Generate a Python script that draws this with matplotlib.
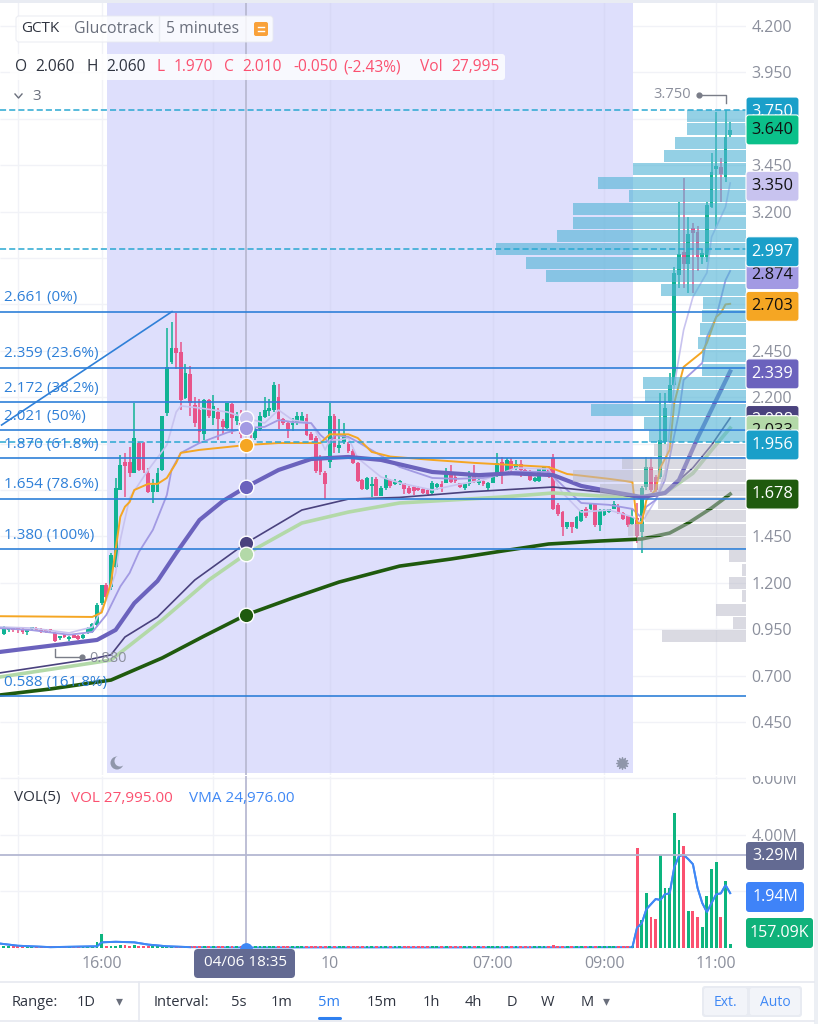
# coding:utf-8
import matplotlib
matplotlib.use('Agg')
import matplotlib.pyplot as plt
from matplotlib.patches import FancyBboxPatch, Rectangle, Circle
import numpy as np

plt.rcParams['font.family'] = ['Open Sans', 'DejaVu Sans']

# candles, one bar every 5 minutes
opens = [.925,.945,.955,.95,.94,.935,.95,.955,.945,.94,.945,.93,.90,.915,.895,.915,.915,.90,.93,.935,
         .975,1.09,1.19,1.18,1.285,1.70,1.85,1.85,1.79,1.955,1.955,1.79,1.69,1.69,1.81,2.115,2.39,2.465,2.445,2.195,
         2.325,2.16,2.13,2.0,2.185,2.09,2.12,2.07,2.035,2.165,2.07,2.06,2.06,2.02,1.98,2.03,2.095,2.125,2.13,2.20,
         2.08,2.06,2.05,2.06,2.07,2.09,2.0,1.98,1.88,1.79,1.85,2.10,1.925,1.96,1.95,1.91,1.845,1.755,1.705,1.72,
         1.76,1.67,1.71,1.755,1.73,1.735,1.735,1.71,1.715,1.71,1.705,1.70,1.685,1.715,1.73,1.74,1.78,1.77,1.735,1.71,
         1.73,1.785,1.74,1.75,1.71,1.74,1.78,1.85,1.79,1.855,1.82,1.84,1.81,1.805,1.75,1.75,1.80,1.815,1.87,1.62,
         1.58,1.50,1.525,1.495,1.535,1.60,1.60,1.625,1.51,1.565,1.58,1.60,1.61,1.575,1.56,1.515,1.55,1.475,1.715,1.825,
         1.77,1.77,1.96,2.175,2.265,2.86,2.98,2.92,3.11,3.09,2.955,2.955,3.225,3.43,3.44,3.385,3.61]
highs = [.965,.96,.96,.955,.955,.95,.96,.96,.955,.95,.95,.935,.915,.925,.915,.92,.92,.925,.96,.985,
         1.09,1.19,1.20,1.36,1.765,1.89,1.90,1.93,2.17,1.96,1.96,1.82,1.76,1.82,2.10,2.575,2.605,2.655,2.50,2.38,
         2.37,2.20,2.19,2.19,2.19,2.21,2.14,2.08,2.17,2.17,2.12,2.13,2.06,2.04,2.04,2.12,2.20,2.19,2.28,2.27,
         2.09,2.07,2.09,2.12,2.12,2.11,2.01,1.99,1.89,1.80,2.17,2.11,2.08,2.06,1.96,1.92,1.85,1.76,1.77,1.77,
         1.77,1.72,1.78,1.76,1.76,1.755,1.74,1.72,1.72,1.72,1.71,1.705,1.75,1.74,1.75,1.82,1.835,1.78,1.74,1.73,
         1.80,1.835,1.76,1.755,1.745,1.785,1.90,1.88,1.87,1.87,1.86,1.86,1.815,1.81,1.77,1.82,1.83,1.83,1.895,1.63,
         1.585,1.53,1.53,1.56,1.59,1.61,1.63,1.63,1.60,1.60,1.60,1.64,1.625,1.58,1.565,1.60,1.63,1.72,1.88,1.88,
         1.78,2.225,2.225,2.33,2.90,3.25,3.38,3.17,3.14,3.12,3.0,3.25,3.515,3.735,3.49,3.75,3.68]
lows = [.92,.935,.935,.93,.925,.92,.94,.94,.93,.93,.93,.88,.89,.905,.885,.90,.89,.895,.925,.93,
        .96,1.08,1.12,1.16,1.28,1.70,1.66,1.77,1.79,1.80,1.79,1.685,1.63,1.69,1.80,2.10,2.38,2.35,2.13,2.19,
        2.10,2.04,1.955,1.97,2.09,2.05,1.97,2.0,2.03,2.0,2.05,1.98,1.97,1.98,1.97,2.02,2.09,2.10,2.12,2.03,
        2.05,1.98,2.02,2.05,2.06,1.99,1.97,1.79,1.78,1.65,1.82,1.90,1.90,1.95,1.90,1.84,1.745,1.70,1.70,1.66,
        1.665,1.665,1.70,1.71,1.725,1.725,1.68,1.68,1.675,1.695,1.68,1.67,1.68,1.70,1.69,1.735,1.74,1.74,1.71,1.70,
        1.72,1.74,1.725,1.72,1.70,1.735,1.77,1.73,1.78,1.78,1.81,1.77,1.775,1.75,1.745,1.745,1.795,1.765,1.59,1.56,
        1.45,1.49,1.47,1.49,1.53,1.55,1.59,1.50,1.48,1.56,1.575,1.595,1.57,1.54,1.50,1.51,1.415,1.36,1.70,1.69,
        1.69,1.76,1.95,2.17,2.26,2.79,2.79,2.76,2.76,2.88,2.92,2.93,3.22,3.11,3.25,3.36,3.60]
closes = [.955,.95,.945,.945,.935,.945,.955,.945,.935,.935,.94,.885,.91,.91,.91,.905,.895,.92,.955,.98,
          1.08,1.19,1.125,1.35,1.71,1.835,1.83,1.79,1.98,1.81,1.81,1.69,1.725,1.79,2.10,2.36,2.465,2.44,2.185,2.33,
          2.17,2.06,2.01,2.185,2.10,2.155,2.08,2.04,2.17,2.09,2.10,2.0,2.01,2.0,2.03,2.10,2.13,2.14,2.265,2.08,
          2.06,2.03,2.06,2.10,2.10,1.995,1.97,1.80,1.795,1.73,2.10,1.93,1.94,2.0,1.91,1.845,1.75,1.705,1.765,1.73,
          1.67,1.71,1.765,1.72,1.745,1.745,1.705,1.685,1.695,1.70,1.685,1.68,1.74,1.73,1.715,1.785,1.745,1.75,1.715,1.73,
          1.78,1.745,1.75,1.73,1.74,1.775,1.845,1.79,1.86,1.81,1.84,1.81,1.78,1.755,1.765,1.815,1.825,1.77,1.60,1.57,
          1.50,1.53,1.50,1.555,1.59,1.56,1.625,1.51,1.59,1.59,1.595,1.625,1.575,1.545,1.51,1.555,1.45,1.71,1.825,1.70,
          1.70,1.97,2.14,2.265,2.87,2.97,2.915,3.08,3.085,2.955,2.975,3.235,3.415,3.445,3.40,3.60,3.64]

# volume in millions
volumes = [.03,.04,.03,.03,.03,.03,.03,.03,.03,.03,.03,.03,.03,.03,.03,.03,.03,.04,.03,.04,
           .2,.5,.04,.04,.03,.1,.1,.06,.12,.05,.05,.03,.03,.03,.03,.03,.03,.04,.03,.03,
           .03,.03,.03,.03,.03,.03,.03,.03,.03,.03,.03,.03,.028,.03,.03,.03,.03,.03,.03,.03,
           .03,.03,.03,.03,.03,.03,.03,.03,.03,.03,.03,.03,.03,.03,.03,.03,.03,.03,.03,.03,
           .03,.03,.03,.03,.03,.03,.03,.03,.03,.03,.03,.03,.03,.03,.03,.03,.03,.03,.03,.03,
           .03,.03,.03,.03,.03,.03,.03,.03,.03,.03,.03,.03,.03,.03,.03,.03,.03,.03,.1,.04,
           .04,.03,.03,.03,.03,.03,.03,.03,.03,.03,.03,.03,.03,.03,.03,.03,3.54,1.0,1.95,1.09,
           1.02,3.29,2.11,2.11,4.77,3.81,3.6,1.3,1.3,1.09,.74,1.84,2.79,3.04,1.11,2.36,.157]
vma_k = [-1,3,10,20,21,24,28,31,35,40,50,100,135,136,137,138,139,140,141,142,143,144,145,146,147,148,149,150,151,152,153,154,155,156]
vma_v = [.16,.08,.03,.06,.2,.22,.2,.12,.06,.03,.02,.02,.03,.72,.87,1.37,1.55,1.73,1.7,1.9,1.93,2.86,3.25,3.29,3.14,2.96,2.12,1.59,1.27,1.59,1.9,1.93,2.22,1.94]

# moving averages, read at selected bars
lav_k = [-1,6,14,19,22,24,25,27,31,35,37,38,42,48,52,56,59,62,66,68,69,70,72,74,76,81,85,92,97,103,110,117,120,124,130,135,137,138,140,142,144,146,148,151,152,155,156]
lav_p = [.962,.956,.93,.962,1.107,1.253,1.43,1.657,1.808,1.942,2.12,2.153,2.142,2.12,2.088,2.061,2.131,2.077,2.061,1.97,1.916,1.97,1.97,1.98,1.872,1.77,1.738,1.70,1.727,1.754,1.819,1.813,1.684,1.581,1.592,1.555,1.522,1.565,1.646,1.792,2.266,2.562,2.74,2.87,3.063,3.225,3.354]
pur_k = [-1,6,14,19,22,25,27,29,32,35,36,38,42,48,52,56,59,62,66,68,70,71,74,76,80,85,92,97,103,110,117,121,124,130,135,137,138,140,142,145,146,150,151,153,155,156]
pur_p = [.956,.945,.92,.935,1.027,1.18,1.253,1.366,1.485,1.673,1.808,1.9,1.953,2.01,2.034,2.04,2.077,2.066,2.06,1.996,1.953,1.996,1.986,1.959,1.9,1.824,1.765,1.76,1.765,1.8,1.797,1.7,1.63,1.62,1.598,1.55,1.61,1.646,1.754,2.115,2.293,2.384,2.524,2.632,2.83,2.88]
ora_k = [-1,19,21,23,24,25,26,27,28,31,33,35,37,38,42,52,59,68,70,74,76,79,83,92,101,117,121,130,135,136,137,138,140,141,143,144,146,150,151,153,154,155,156]
ora_p = [1.02,1.016,1.04,1.2,1.38,1.555,1.61,1.635,1.70,1.733,1.733,1.765,1.846,1.9,1.916,1.942,1.953,1.953,2.0,2.0,1.98,1.905,1.88,1.862,1.846,1.824,1.786,1.76,1.743,1.52,1.522,1.646,1.70,1.82,1.916,2.17,2.363,2.444,2.492,2.632,2.654,2.70,2.703]
ind_k = [-1,20,24,28,33,37,42,47,52,59,66,74,81,92,102,109,118,124,132,137,142,145,149,153,156]
ind_p = [.827,.892,.946,1.09,1.21,1.36,1.538,1.64,1.716,1.808,1.867,1.878,1.862,1.797,1.78,1.79,1.78,1.722,1.684,1.662,1.684,1.754,1.98,2.185,2.339]
nav_k = [-1,19,23,26,33,41,52,64,74,85,100,118,128,137,142,148,152,156]
nav_p = [.714,.79,.812,.908,1.016,1.215,1.414,1.592,1.651,1.66,1.69,1.716,1.69,1.657,1.684,1.82,1.942,2.088]
lgr_k = [-1,19,23,34,44,52,64,74,85,107,118,128,137,142,148,152,156]
lgr_p = [.692,.768,.784,1.0,1.215,1.355,1.522,1.581,1.63,1.662,1.684,1.668,1.662,1.684,1.79,1.915,2.034]
dgr_k = [-1,10,23,34,43,52,62,72,85,96,107,117,128,137,143,147,152,156]
dgr_p = [.595,.628,.676,.795,.913,1.027,1.118,1.204,1.29,1.328,1.371,1.409,1.425,1.436,1.468,1.522,1.603,1.678]

# crosshair readings at 04/06 18:35
cross_p = [2.088,2.034,1.942,1.716,1.414,1.355,1.027]
cross_c = ['#c8c3ef','#a29ae3','#f5a623','#6b62bd','#4a427e','#b3d9a8','#1f5a0e']

# fibonacci retracement
fib_p = [2.661,2.359,2.172,2.021,1.870,1.654,1.380,0.588]
fib_l = ['2.661 (0%)','2.359 (23.6%)','2.172 (38.2%)','2.021 (50%)','1.870 (61.8%)','1.654 (78.6%)','1.380 (100%)','0.588 (161.8%)']

# volume profile
prof_p = [3.715,3.643,3.571,3.499,3.427,3.356,3.284,3.212,3.140,3.068,2.996,2.924,2.852,2.780,2.708,2.637,2.565,2.493,2.421,2.349,2.277,2.205,2.133,2.061,1.989,
          1.917,1.845,1.774,1.702,1.630,1.558,1.486,1.414,1.342,1.270,1.198,1.127,1.055,.983,.911]
prof_v = [59,59,71,82,113,148,117,173,173,189,250,220,200,85,43,44,46,48,44,44,103,101,155,102,97,
          92,124,173,146,88,101,118,109,17,4,17,4,30,13,84]

dash_p = [3.75,2.997,1.956]
price_ticks = [4.2,3.95,3.7,3.45,3.2,2.95,2.7,2.45,2.2,1.95,1.7,1.45,1.2,.95,.7,.45]
time_k = [21,70,105,129,153]
time_l = ['16:00','10','07:00','09:00','11:00']
grid_k = [3,21,45,70,105,129,153]
night_grid_k = [45,70,105,129]

green = '#10b394'
red = '#e8548a'
vgreen = '#0db57f'
vred = '#fb5170'
fibc = '#2f80d8'
dashc = '#2aa8d2'
gridc = '#f1f2f7'
txtgray = '#8b8f9c'

fig = plt.figure(figsize=(8.18,10.24), dpi=100, facecolor='white')
W = 818.
H = 1024.
ax = fig.add_axes([0,(H-775)/H,746/W,775/H])
axv = fig.add_axes([0,(H-950)/H,746/W,174/H])
xlim = (-0.84,159.4)
ax.set_xlim(xlim)
ax.set_ylim(0.1644,4.34)
axv.set_xlim(xlim)
axv.set_ylim(-0.0707,6.078)
for a in [ax,axv]:
    for s in a.spines.values():
        s.set_visible(False)
    a.yaxis.tick_right()
    a.tick_params(length=0, labelsize=11.5, labelcolor=txtgray, pad=4)
    a.vlines(grid_k,a.get_ylim()[0],a.get_ylim()[1],color=gridc,lw=1,zorder=0)

# main pane
ax.set_xticks([])
ax.set_yticks(price_ticks)
ax.set_yticklabels(['%.3f'%p for p in price_ticks])
ax.hlines(price_ticks,xlim[0],xlim[1],color=gridc,lw=1,zorder=0)
ax.axvspan(22.15,135.15,ymin=2/775.,color='#dedffc',lw=0,zorder=0.5)
ax.vlines(night_grid_k,0.18,4.33,color='#d4d6f2',lw=1,zorder=0.6,alpha=0.6)

o = np.array(opens)
h = np.array(highs)
l = np.array(lows)
c = np.array(closes)
k = np.arange(len(o))
cols = [green if c[i]>=o[i] else red for i in k]
ax.vlines(k,l,h,color=cols,lw=1.1,zorder=2)
ax.bar(k,np.maximum(np.abs(c-o),0.012),bottom=np.minimum(o,c),width=0.82,color=cols,lw=0,zorder=2)

ax.plot(lav_k,lav_p,color='#c8c3ef',lw=1.2,zorder=3)
ax.plot(pur_k,pur_p,color='#a29ae3',lw=1.3,zorder=3)
ax.plot(ora_k,ora_p,color='#f5a623',lw=1.4,zorder=3)
ax.plot(lgr_k,lgr_p,color='#b3d9a8',lw=2.6,zorder=3)
ax.plot(nav_k,nav_p,color='#4a427e',lw=1.2,zorder=3)
ax.plot(ind_k,ind_p,color='#6b62bd',lw=3,zorder=3)
ax.plot(dgr_k,dgr_p,color='#1f5a0e',lw=2.6,zorder=3)

# profile hangs off the right edge of the pane, lengths are in pixels
pv = np.array(prof_v)/4.655
pcols = ['#52b4d6']*25+['#b9b9c8']*15
palpha = [0.62]*25+[0.52]*15
for i in range(len(prof_p)):
    ax.barh(prof_p[i],pv[i],left=xlim[1]-pv[i],height=0.0645,color=pcols[i],alpha=palpha[i],lw=0,zorder=4)

for p in fib_p:
    ax.axhline(p,color=fibc,lw=1.2,zorder=5)
for p,t in zip(fib_p,fib_l):
    ax.annotate(t,(0,p),xycoords=('axes fraction','data'),xytext=(4,14),textcoords='offset pixels',
                color=fibc,fontsize=11,va='center',ha='left',zorder=6)
ax.plot([-0.5,36.1],[2.05,2.661],color=fibc,lw=1.2,zorder=5)
for p in dash_p:
    ax.axhline(p,color=dashc,lw=1.1,ls=(0,(4,2)),zorder=5)

# volume pane
axv.set_xticks(time_k)
axv.set_xticklabels(time_l)
axv.set_yticks([6,4])
axv.set_yticklabels(['6.00M','4.00M'])
axv.hlines([2,4,6],xlim[0],xlim[1],color=gridc,lw=1,zorder=0)
vcols = [vgreen if c[i]>=o[i] else vred for i in k]
# the quiet bars are kept visible as dashes along the baseline
axv.bar(k,np.maximum(volumes,0.055),width=0.62,color=vcols,lw=0,zorder=2)
# flat middle of the average runs under the dashes
axv.plot(vma_k,vma_v,color='#3f88f5',lw=1.4,zorder=1.5)
axv.plot(vma_k[:10],vma_v[:10],color='#3f88f5',lw=1.4,zorder=3)
axv.plot(vma_k[12:],vma_v[12:],color='#3f88f5',lw=1.4,zorder=3)
axv.axhline(3.29,color='#b4b8d2',lw=1.3,zorder=4)

# crosshair
ax.axvline(52,color='#b9bad2',lw=1.3,zorder=2.5)
axv.axvline(52,ymin=0.02,color='#b9bad2',lw=1.3,zorder=2.5)
for p,col in zip(cross_p,cross_c):
    ax.scatter([52],[p],s=110,color=col,edgecolor='white',linewidth=1,zorder=7)
axv.scatter([52],[-0.02],s=85,color='#3f88f5',lw=0,zorder=5,clip_on=True)

# everything below sits on a full figure overlay in pixel units
ov = fig.add_axes([0,0,1,1],facecolor='none')
ov.set_xlim(0,W)
ov.set_ylim(H,0)
ov.axis('off')

def ypx(a,val):
    return H-a.transData.transform((0,val))[1]

def box(x0,y0,x1,y1,fc,ec='none',r=3,alpha=1,z=10):
    ov.add_patch(FancyBboxPatch((x0+r,y0+r),x1-x0-2*r,y1-y0-2*r,boxstyle='round,pad=%g,rounding_size=%g'%(r,r),
                                fc=fc,ec=ec,lw=0.8,alpha=alpha,zorder=z))

ov.add_patch(Rectangle((0,0),W,3,fc='#e9ecf3',ec='none',zorder=9))
ov.add_patch(Rectangle((746,762),68,14,fc='white',ec='none',zorder=9))
ov.add_patch(Rectangle((814,0),4,H,fc='#eceff4',ec='none',zorder=9))

# header
box(16,16,273,42,'white',ec='#e8eaf1',alpha=0.82)
ov.plot([159,159],[16,42],color='#e8eaf1',lw=1,zorder=11)
ov.text(21,29,'GCTK',color='#2f3440',fontsize=11,va='center',zorder=12)
ov.text(74,29,'Glucotrack',color='#6a6f7c',fontsize=11.4,va='center',zorder=12)
ov.text(166,29,'5 minutes',color='#6a6f7c',fontsize=11.3,va='center',zorder=12)
box(254,22,268,36,'#f9a13a',r=2,z=12)
ov.plot([258,264],[27,27],color='white',lw=1,zorder=13)
ov.plot([258,264],[31,31],color='white',lw=1,zorder=13)

box(10,54,505,80,'white',alpha=0.82)
for t,x,col in [('O',15,'#2f3440'),('2.060',35,'#2f3440'),('H',86,'#2f3440'),('2.060',106,'#2f3440'),
                ('L',157,vred),('1.970',174,vred),('C',224,vred),('2.010',242,vred),
                ('-0.050',293,vred),('(-2.43%)',343,vred),('Vol',420,vred),('27,995',451,vred)]:
    ov.text(x,67,t,color=col,fontsize=11.2,va='center',zorder=12)
ov.plot([15,18.5,22],[94,98,94],color='#6a6f7c',lw=1,zorder=12)
ov.text(32,96,'3',color='#6a6f7c',fontsize=11,va='center',zorder=12)

ov.text(14,798,'VOL(5)',color='#2f3440',fontsize=11,va='center',zorder=12)
ov.text(71,798,'VOL 27,995.00',color=vred,fontsize=11,va='center',zorder=12)
ov.text(189,798,'VMA 24,976.00',color='#3f88f5',fontsize=11,va='center',zorder=12)

# high and low markers
ov.plot([699,725.5,725.5],[95,95,103],color='#7a7d88',lw=1,zorder=8)
ov.scatter([699],[95],s=12,color='#7a7d88',zorder=8)
ov.text(672.5,95,'3.750',color=txtgray,fontsize=10.5,ha='center',va='center',zorder=8)
ov.plot([55,55,82],[649,657,657],color='#7a7d88',lw=1,zorder=8)
ov.scatter([82],[657],s=12,color='#7a7d88',zorder=8)
ov.text(108,658,'0.880',color=txtgray,fontsize=10.5,ha='center',va='center',zorder=8)

# session icons
ov.add_patch(Circle((117,763),6.5,fc='#8f96aa',ec='none',zorder=8))
ov.add_patch(Circle((120,761),5.5,fc='#dedffc',ec='none',zorder=8.5))
ov.scatter([622],[763],s=70,marker=(12,1,0),color='#8f96aa',zorder=8)

# price badges, later ones cover earlier ones
badges = [('3.750',3.75,'#1a9fc9','white',2.5),('3.640',3.64,'#0bc08a','#111111',0),('3.350',3.35,'#c8c3ef','#111111',2.5),
          ('2.874',2.874,'#a29ae3','#111111',2.5),('2.997',2.997,'#1a9fc9','white',2.5),('2.703',2.703,'#f5a623','#111111',2.5),
          ('2.339',2.339,'#6b62bd','white',2.5),('2.088',2.088,'#4a427e','white',2.5),('2.033',2.033,'#b3d9a8','#111111',2.5),
          ('1.956',1.956,'#1a9fc9','white',2.5),('1.678',1.678,'#1f5a0e','white',0)]
z = 20
for t,p,fc,tc,off in badges:
    y = ypx(ax,p)+off
    box(746,y-15,799,y+15,fc,ec='white',z=z)
    ov.text(772.5,y,t,color=tc,fontsize=11.8,ha='center',va='center',zorder=z+0.5)
    z += 1

for t,y0,y1,x1,fc in [('3.29M',842,870,804,'#636a92'),('1.94M',882,912,804,'#3f83f8'),('157.09K',918,948,813,'#0fb27a')]:
    box(746,y0,x1,y1,fc,r=3)
    ov.text((746+x1)/2.,(y0+y1)/2.,t,color='white',fontsize=11.5,ha='center',va='center',zorder=12)

box(194,949,295,978,'#636a92',r=4)
ov.text(245,963,'04/06 18:35',color='white',fontsize=11,ha='center',va='center',zorder=12)

# bottom toolbar
ov.plot([0,814],[982,982],color='#e6e9f0',lw=1.2,zorder=9)
ov.plot([0,814],[1021,1021],color='#e6e9f0',lw=1.2,zorder=9)
ov.plot([139,139],[982,1021],color='#e6e9f0',lw=1.2,zorder=9)
ov.text(12,1002,'Range:',color='#2f3440',fontsize=10.5,va='center')
ov.text(86,1002,'1D',color='#2f3440',fontsize=10.5,va='center',ha='center')
ov.text(119,1001,'\u25be',family='DejaVu Sans',color='#6a6f7c',fontsize=10,va='center',ha='center')
ov.text(154,1002,'Interval:',color='#2f3440',fontsize=10.5,va='center')
for t,x in [('5s',239),('1m',282),('15m',382),('1h',431),('4h',473),('D',512),('W',548),('M',587)]:
    ov.text(x,1002,t,color='#2f3440',fontsize=10.5,va='center',ha='center')
ov.text(329,1002,'5m',color='#2f80f0',fontsize=10.5,va='center',ha='center')
ov.plot([319,340],[1018,1018],color='#2f80f0',lw=2.2,solid_capstyle='round')
ov.text(606,1001,'\u25be',family='DejaVu Sans',color='#6a6f7c',fontsize=10,va='center',ha='center')
box(702,986,802,1017,'#e8ebf2',r=3)
box(704,988,747,1015,'#f2f4f9',r=2,z=11)
box(750,988,800,1015,'#f2f4f9',r=2,z=11)
ov.text(725.5,1002,'Ext.',color='#3f88f5',fontsize=10,va='center',ha='center',zorder=12)
ov.text(775,1002,'Auto',color='#3f88f5',fontsize=10,va='center',ha='center',zorder=12)

fig.savefig('out.png',dpi=100)
